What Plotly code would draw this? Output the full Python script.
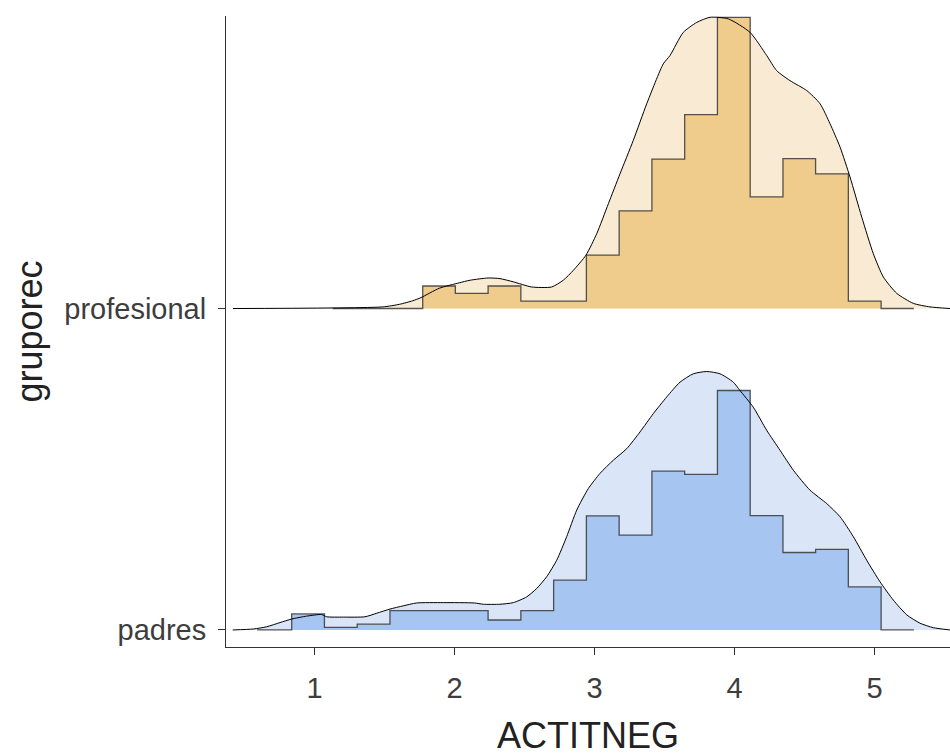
import plotly.graph_objects as go

# Ridge rows (baseline position on the y axis)
groups = ["profesional", "padres"]
row_pos = {"padres": 1, "profesional": 2}

# Histogram bin edges on ACTITNEG (shared by both rows)
bin_edges = [0.603, 0.837, 1.071, 1.305, 1.539, 1.773, 2.006, 2.240, 2.474,
             2.708, 2.942, 3.176, 3.410, 3.644, 3.878, 4.112, 4.346, 4.579,
             4.813, 5.047, 5.281]

# Scaled histogram heights per bin (fraction of row spacing)
padres_hist = [0.0, 0.050, 0.008, 0.018, 0.060, 0.060, 0.060, 0.031, 0.060,
               0.155, 0.355, 0.295, 0.494, 0.484, 0.745, 0.356, 0.241, 0.251,
               0.134, 0.0]
prof_hist = [0.0, 0.0, 0.0, 0.0, 0.0, 0.070, 0.047, 0.070, 0.023, 0.023,
             0.166, 0.304, 0.465, 0.603, 0.906, 0.347, 0.466, 0.419, 0.023,
             0.0]
hist_outline_start = {"padres": 0.59, "profesional": 1.13}

# Scaled density curves
padres_dens_x = [0.416, 0.563, 0.659, 0.754, 0.837, 0.944, 1.051, 1.087, 1.206,
                 1.361, 1.444, 1.539, 1.634, 1.730, 1.920, 2.141, 2.206, 2.325,
                 2.420, 2.516, 2.587, 2.659, 2.730, 2.801, 2.873, 2.956, 3.039,
                 3.134, 3.230, 3.325, 3.420, 3.516, 3.611, 3.706, 3.801, 3.896,
                 3.991, 4.039, 4.134, 4.230, 4.325, 4.420, 4.539, 4.659, 4.754,
                 4.849, 4.944, 5.039, 5.134, 5.230, 5.325, 5.420, 5.539]
padres_dens_h = [0.0, 0.003, 0.010, 0.023, 0.034, 0.043, 0.048, 0.041, 0.040,
                 0.041, 0.052, 0.065, 0.075, 0.084, 0.085, 0.084, 0.080, 0.080,
                 0.085, 0.103, 0.129, 0.166, 0.217, 0.290, 0.373, 0.440, 0.487,
                 0.528, 0.564, 0.616, 0.673, 0.725, 0.771, 0.797, 0.804, 0.797,
                 0.771, 0.745, 0.693, 0.621, 0.559, 0.497, 0.435, 0.393, 0.352,
                 0.290, 0.217, 0.150, 0.093, 0.047, 0.021, 0.007, 0.0]

prof_dens_x = [0.418, 1.487, 1.606, 1.701, 1.761, 1.891, 2.034, 2.111, 2.241,
               2.325, 2.420, 2.551, 2.694, 2.777, 2.849, 2.939, 3.016, 3.099,
               3.182, 3.277, 3.373, 3.491, 3.539, 3.634, 3.730, 3.825, 3.956,
               4.111, 4.230, 4.301, 4.396, 4.516, 4.611, 4.682, 4.754, 4.825,
               4.909, 4.991, 5.063, 5.159, 5.277, 5.396, 5.539]
prof_dens_h = [0.0, 0.005, 0.013, 0.024, 0.034, 0.063, 0.080, 0.088, 0.095,
               0.093, 0.083, 0.067, 0.067, 0.088, 0.119, 0.166, 0.233, 0.326,
               0.419, 0.523, 0.637, 0.761, 0.787, 0.859, 0.890, 0.906, 0.901,
               0.859, 0.787, 0.740, 0.709, 0.678, 0.637, 0.575, 0.502, 0.409,
               0.284, 0.171, 0.098, 0.047, 0.016, 0.005, 0.0]

series = {
    "profesional": dict(hist=prof_hist, dx=prof_dens_x, dh=prof_dens_h,
                        dens_fill="#F8EAD3", hist_fill="#EFCC8C"),
    "padres": dict(hist=padres_hist, dx=padres_dens_x, dh=padres_dens_h,
                   dens_fill="#DAE6F7", hist_fill="#A6C5F0"),
}

FONT = "Liberation Sans, Arial, sans-serif"
fig = go.Figure()

for g in groups:
    s = series[g]
    b = row_pos[g]
    hist = s["hist"]

    # density area
    dy = [b + h for h in s["dh"]]
    fig.add_trace(go.Scatter(x=s["dx"], y=dy, mode="lines", fill="toself",
                             fillcolor=s["dens_fill"], line=dict(width=0),
                             hoverinfo="skip", showlegend=False))

    # histogram area
    hx, hy = [bin_edges[0]], [b]
    for i, h in enumerate(hist):
        hx += [bin_edges[i], bin_edges[i + 1]]
        hy += [b + h, b + h]
    hx.append(bin_edges[-1])
    hy.append(b)
    fig.add_trace(go.Scatter(x=hx, y=hy, mode="lines", fill="toself",
                             fillcolor=s["hist_fill"], line=dict(width=0),
                             hoverinfo="skip", showlegend=False))

    # histogram outline
    start = hist_outline_start[g]
    ox, oy = [start], [b]
    for i, h in enumerate(hist):
        if bin_edges[i + 1] <= start:
            continue
        ox += [max(bin_edges[i], start), bin_edges[i + 1]]
        oy += [b + h, b + h]
    fig.add_trace(go.Scatter(x=ox, y=oy, mode="lines",
                             line=dict(color="rgba(45,45,45,0.8)", width=1.3),
                             hoverinfo="skip", showlegend=False))

    # density outline
    fig.add_trace(go.Scatter(x=s["dx"], y=dy, mode="lines",
                             line=dict(color="black", width=1, shape="spline",
                                       smoothing=0.6),
                             hoverinfo="skip", showlegend=False))

axis_common = dict(showgrid=False, zeroline=False, showline=True,
                   linecolor="#333333", linewidth=1, ticks="outside",
                   ticklen=7, tickcolor="#333333", tickwidth=1,
                   tickfont=dict(family=FONT, size=29, color="#3D3D3D"))

fig.update_layout(
    width=950, height=756,
    margin=dict(l=226, r=0, t=16, b=109),
    plot_bgcolor="white", paper_bgcolor="white",
    xaxis=dict(range=[0.368, 5.539], tickvals=[1, 2, 3, 4, 5],
               ticklabelstandoff=8,
               title=dict(text="ACTITNEG", font=dict(family=FONT, size=36,
                                                     color="#222222"),
                          standoff=26),
               **axis_common),
    yaxis=dict(range=[0.947, 2.91], tickvals=[1, 2],
               ticktext=["padres", "profesional"],
               ticklabelstandoff=6,
               title=dict(text="gruporec", font=dict(family=FONT, size=36,
                                                     color="#222222"),
                          standoff=10),
               **axis_common),
)

fig.write_html("out.html")
